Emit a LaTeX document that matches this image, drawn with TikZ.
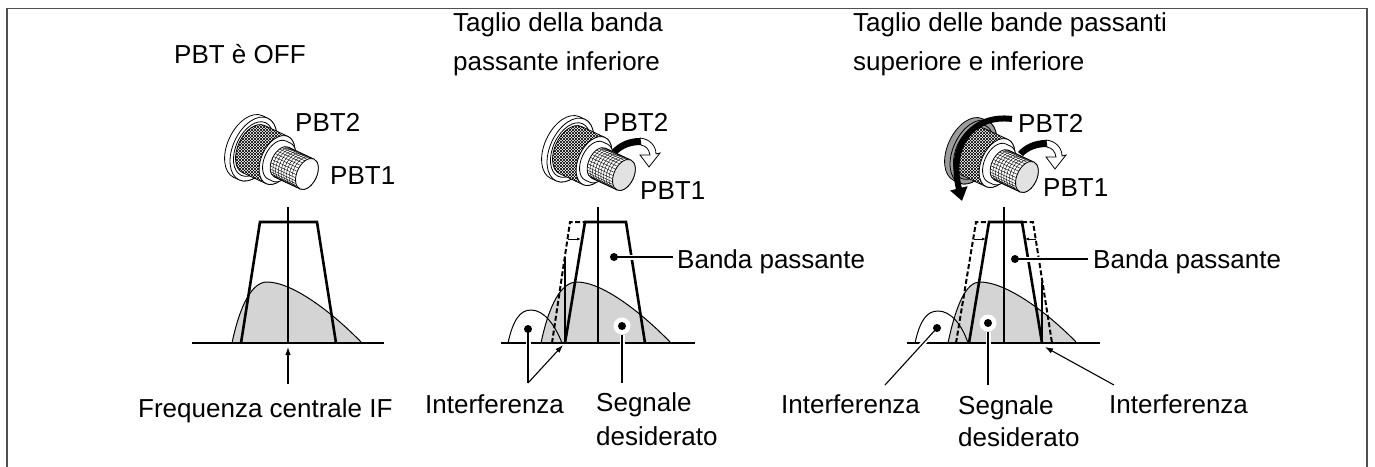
\documentclass[tikz,border=0pt]{standalone}
\usepackage{fontspec}
\setmainfont{Liberation Sans}
\usetikzlibrary{arrows.meta,patterns}

\definecolor{framegray}{HTML}{505050}
\definecolor{humpgray}{HTML}{D4D4D4}
\definecolor{capgray}{HTML}{E2E2E2}
\definecolor{ringgray}{HTML}{9C9C9C}

% side outline of a cylinder lying along the local x axis, from #1 to #2, radius #3
\newcommand{\knobcyl}[4]{%
  \path[#4] (#1,#3) arc[start angle=90,end angle=270,x radius={0.6*#3},y radius=#3]
    -- (#2,-#3) arc[start angle=-90,end angle=90,x radius={0.6*#3},y radius=#3] -- cycle;}

% concentric PBT knob: #1,#2 flange centre, #3 flange fill, #4 cap fill
\newcommand{\knurledknob}[4]{%
  \begin{scope}[shift={(#1,#2)},rotate=-25,line width=0.8pt]
    % flange of the outer PBT2 ring
    \knobcyl{0}{6}{34}{fill=#3,draw}
    \path[fill=#3,draw] (6,0) ellipse[x radius=20.4,y radius=34];
    \draw (6,0) ellipse[x radius=17.4,y radius=29];
    % knurled PBT2 ring
    \knobcyl{6}{32}{26}{fill=white}
    \knobcyl{6}{32}{26}{pattern=north east lines}
    \knobcyl{6}{32}{26}{pattern=north west lines}
    \knobcyl{6}{32}{26}{draw}
    \path[fill=white,draw] (32,0) ellipse[x radius=15.6,y radius=26];
    % collar
    \knobcyl{32}{37}{21}{fill=white,draw}
    % knurled PBT1 knob
    \knobcyl{37}{65}{16.5}{fill=white}
    \foreach \t in {102,114,...,258}
      \draw[line width=0.4pt] ({37+9.9*cos(\t)},{16.5*sin(\t)}) -- ({65+9.9*cos(\t)},{16.5*sin(\t)});
    \foreach \u in {40,43,...,63}
      \draw[line width=0.4pt] (\u,16.5) arc[start angle=90,end angle=270,x radius=9.9,y radius=16.5];
    \knobcyl{37}{65}{16.5}{draw}
    \path[fill=#4,draw] (65,0) ellipse[x radius=9.9,y radius=16.5];
  \end{scope}}

% rotation arrow around the PBT1 knob, shifted by #1,#2
\newcommand{\turnarrow}[2]{%
  \begin{scope}[shift={(#1,#2)},line width=0.8pt]
    \fill (612,150) .. controls (618,143) and (628,138) .. (640,138)
      -- (641,145) .. controls (631,145) and (623,148) .. (617,154) -- cycle;
    \path[fill=white,draw,line join=miter] (640,138) .. controls (650,139) and (656,146) .. (656,154)
      -- (660,153) -- (649,167) -- (640,155) -- (650,155)
      .. controls (649,149) and (646,146) .. (641,145) -- cycle;
  \end{scope}}

\begin{document}
\begin{tikzpicture}[x=1pt,y=-1pt,
  lbl/.style={font=\fontsize{26}{30}\selectfont, inner sep=0pt, anchor=base west},
  hump/.style={fill=humpgray, draw=black, line width=1pt},
  intf/.style={draw=black, line width=1pt},
  axisline/.style={line width=2.4pt},
  centerline/.style={line width=1.2pt},
  passband/.style={line width=2.6pt, line join=miter},
  oldband/.style={line width=2pt, dash pattern=on 5pt off 2.5pt},
  shiftarrow/.style={line width=0.8pt, -{Latex[length=4pt,width=3pt]}},
  leader/.style={line width=1.1pt, preaction={draw=white, line width=5pt}},
  pointer/.style={line width=1.1pt, -{Latex[length=8pt,width=5.5pt]}},
  dot/.style={circle, fill=black, inner sep=0pt, minimum size=8pt},
  halo/.style={circle, fill=white, inner sep=0pt, minimum size=17pt}]
\useasboundingbox (0,0) rectangle (1375,466);
\draw[framegray, line width=1.5pt] (7,470) -- (7,8.5) -- (1367,8.5) -- (1367,470);

% ---------- knobs ----------
\knurledknob{248}{146.5}{white}{white}
\knurledknob{565}{147.5}{white}{capgray}
\knurledknob{968}{149.5}{ringgray}{capgray}
\turnarrow{0}{0}
\turnarrow{406}{2}
\draw[line width=6pt, -{Triangle[length=13pt,width=17pt]}]
  (1012,119) .. controls (973,114) and (948,145) .. (962,201);

% ---------- panel 1: PBT off ----------
\path[hump] (232,343) .. controls (240,305) and (252,282) .. (267,282)
  .. controls (292,282) and (332,312) .. (362,343);
\draw[axisline] (192,343) -- (384,343);
\draw[centerline] (288,207) -- (288,343);
\draw[passband] (241,343) -- (260,222) -- (317,222) -- (336,343);
\coordinate (ifA) at (288,384);
\coordinate (ifB) at (288,347);
\draw[pointer] (ifA) -- (ifB);

\node[lbl] (ttlA) at (174,63) {PBT è OFF};
\node[lbl] (kA2) at (295,131) {PBT2};
\node[lbl] (kA1) at (330,184) {PBT1};
\node[lbl] (capA) at (138,417) {Frequenza centrale IF};

% ---------- panel 2: lower edge cut ----------
\path[hump] (541,343) .. controls (549,305) and (561,282) .. (577,282)
  .. controls (602,282) and (641,312) .. (671,343);
\path[intf] (508,343) .. controls (513,320) and (520,310) .. (531,310)
  .. controls (544,310) and (555,325) .. (562,343);
\draw[axisline] (501,343) -- (695,343);
\draw[centerline] (598,207) -- (598,343);
\draw[oldband] (552,343) -- (570,222) -- (585,222);
\draw[passband] (565,343) -- (585,222) -- (626,222) -- (645,343);
\draw[passband] (565,257) -- (565,343);
\draw[shiftarrow] (568,239) -- (581,239);

\coordinate (bdB) at (614,257);
\coordinate (bdBe) at (673,257);
\coordinate (ifdB) at (528,329);
\coordinate (ifvB) at (528,383);
\coordinate (ifcB) at (563,345);
\coordinate (sgB) at (622,326);
\coordinate (sgBe) at (622,383);
\draw[leader] (bdB) -- (bdBe);
\draw[leader] (ifdB) -- (ifvB);
\node[halo] (sgBh) at (sgB) {};
\draw[leader] (sgBh) -- (sgBe);
\draw[pointer] (ifvB) -- (ifcB);
\node[dot] (bdBd) at (bdB) {};
\node[dot] (ifdBd) at (ifdB) {};
\node[dot] (sgBd) at (sgB) {};

\node[lbl] (ttlB1) at (453,31) {Taglio della banda};
\node[lbl] (ttlB2) at (453,70) {passante inferiore};
\node[lbl] (kB2) at (603,131) {PBT2};
\node[lbl] (kB1) at (640,199) {PBT1};
\node[lbl] (bandB) at (677,268) {Banda passante};
\node[lbl] (intB) at (425,413) {Interferenza};
\node[lbl] (sigB1) at (596,411) {Segnale};
\node[lbl] (sigB2) at (596,445) {desiderato};

% ---------- panel 3: both edges cut ----------
\path[hump] (948,343) .. controls (956,305) and (966,282) .. (980,282)
  .. controls (1006,282) and (1047,312) .. (1077,343);
\path[intf] (915,343) .. controls (920,320) and (927,311) .. (938,311)
  .. controls (951,311) and (962,325) .. (968,343);
\draw[axisline] (907,343) -- (1100,343);
\draw[centerline] (1004,207) -- (1004,343);
\draw[oldband] (956,343) -- (976,222) -- (989,222);
\draw[oldband] (1022,222) -- (1033,222) -- (1052,343);
\draw[passband] (969,343) -- (989,222) -- (1022,222) -- (1042,343);
\draw[passband] (1042,282) -- (1042,343);
\draw[shiftarrow] (974,239) -- (986,239);
\draw[shiftarrow] (1036,239) -- (1025,239);

\coordinate (bdC) at (1015,259);
\coordinate (bdCe) at (1088,259);
\coordinate (ifdC) at (937,328);
\coordinate (ifeC) at (885,385);
\coordinate (sgC) at (988,323);
\coordinate (sgCe) at (988,385);
\coordinate (irC) at (1114,385);
\coordinate (ircC) at (1045,347);
\draw[leader] (bdC) -- (bdCe);
\draw[leader] (ifdC) -- (ifeC);
\node[halo] (sgCh) at (sgC) {};
\draw[leader] (sgCh) -- (sgCe);
\draw[pointer] (irC) -- (ircC);
\node[dot] (bdCd) at (bdC) {};
\node[dot] (ifdCd) at (ifdC) {};
\node[dot] (sgCd) at (sgC) {};

\node[lbl] (ttlC1) at (853,31) {Taglio delle bande passanti};
\node[lbl] (ttlC2) at (853,70) {superiore e inferiore};
\node[lbl] (kC2) at (1018,132) {PBT2};
\node[lbl] (kC1) at (1043,196) {PBT1};
\node[lbl] (bandC) at (1093,268) {Banda passante};
\node[lbl] (intC1) at (781,413) {Interferenza};
\node[lbl] (sigC1) at (958,414) {Segnale};
\node[lbl] (sigC2) at (958,446) {desiderato};
\node[lbl] (intC2) at (1109,413) {Interferenza};
\end{tikzpicture}
\end{document}
